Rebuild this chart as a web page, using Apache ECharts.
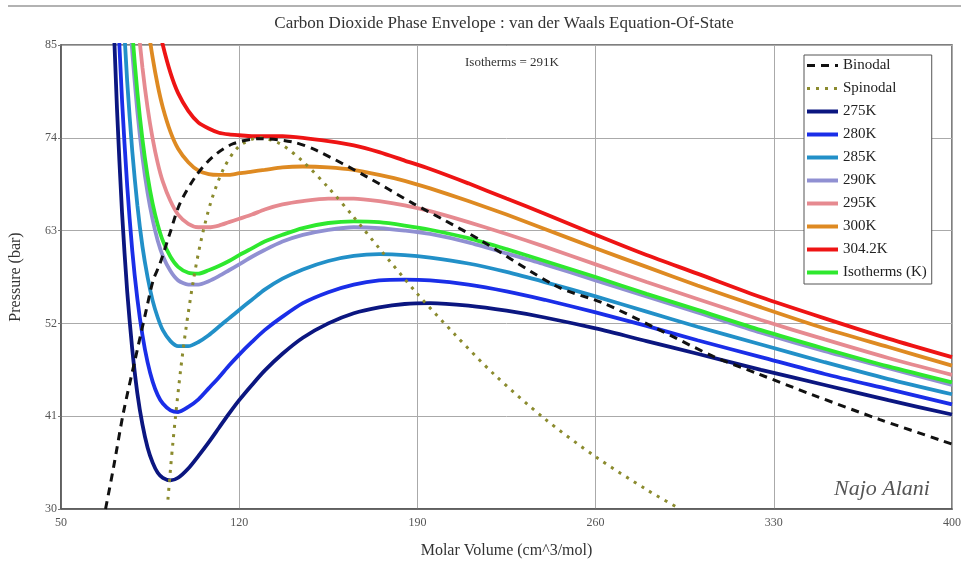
<!DOCTYPE html>
<html>
<head>
<meta charset="utf-8">
<script src="https://cdn.jsdelivr.net/npm/echarts@6/dist/echarts.min.js"></script>
<style>
html,body{margin:0;padding:0;background:#fff;}
#chart{width:961px;height:563px;}
</style>
</head>
<body>
<div id="chart"></div>
<script>
// Molar volume samples (cm^3/mol) shared by the isotherms
const volumes = [68,70,72,74,76,78,80,82,84,86,88,90,93,96,100,104,108,112,116,120,125,130,137,145,155,165,175,185,195,210,225,240,260,280,300,325,350,375,400];

// Isotherm pressures (bar)
const p275 = [115.4,93.7,77.4,65.0,55.8,48.9,43.7,40.0,37.3,35.5,34.3,33.7,33.4,33.7,34.8,36.3,37.9,39.6,41.3,42.9,44.7,46.4,48.4,50.3,52.0,53.2,53.9,54.3,54.4,54.1,53.5,52.7,51.4,49.9,48.4,46.5,44.7,42.9,41.2];
const p280 = [null,108.9,91.5,78.3,68.3,60.6,54.9,50.6,47.4,45.1,43.5,42.5,41.7,41.5,42.1,43.0,44.3,45.6,47.0,48.3,49.8,51.2,52.8,54.4,55.7,56.6,57.1,57.2,57.1,56.6,55.8,54.8,53.3,51.7,50.0,48.0,46.0,44.2,42.4];
const p285 = [null,null,105.7,91.6,80.7,72.4,66.0,61.1,57.5,54.7,52.7,51.2,49.9,49.3,49.3,49.8,50.6,51.6,52.6,53.6,54.8,56.0,57.3,58.4,59.4,60.0,60.2,60.1,59.8,59.1,58.1,56.9,55.2,53.4,51.6,49.5,47.4,45.4,43.6];
const p290 = [null,null,null,null,93.2,84.2,77.1,71.7,67.5,64.3,61.8,60.0,58.2,57.1,56.6,56.6,57.0,57.6,58.3,59.0,59.9,60.7,61.7,62.5,63.1,63.4,63.3,63.0,62.6,61.6,60.3,59.0,57.1,55.2,53.3,50.9,48.7,46.7,44.7];
const p295 = [null,null,null,null,null,95.9,88.3,82.3,77.6,73.9,71.0,68.8,66.5,64.9,63.8,63.4,63.4,63.6,64.0,64.4,64.9,65.5,66.1,66.5,66.8,66.8,66.5,66.0,65.3,64.0,62.6,61.1,59.0,56.9,54.9,52.4,50.1,47.9,45.9];
const p300 = [null,null,null,null,null,null,99.4,92.8,87.6,83.5,80.2,77.6,74.7,72.7,71.1,70.1,69.7,69.6,69.6,69.8,70.0,70.2,70.5,70.6,70.5,70.2,69.6,68.9,68.0,66.5,64.9,63.2,60.9,58.7,56.5,53.9,51.4,49.2,47.0];
const p304 = [null,null,null,null,null,null,null,null,96.1,91.5,87.9,85.0,81.7,79.3,77.2,75.8,75.1,74.6,74.4,74.3,74.2,74.2,74.2,74.0,73.6,73.1,72.3,71.3,70.3,68.6,66.8,65.0,62.5,60.1,57.9,55.1,52.6,50.2,48.0];
const p291 = [null,null,null,null,95.7,86.5,79.4,73.8,69.5,66.2,63.7,61.8,59.9,58.7,58.0,57.9,58.3,58.8,59.4,60.1,60.9,61.7,62.5,63.3,63.9,64.1,64.0,63.6,63.1,62.1,60.8,59.4,57.5,55.5,53.6,51.2,49.0,46.9,45.0];

// Binodal (coexistence) curve
const binodalV = [67.5,70.5,74.5,79.1,83.5,86.2,88.9,92.8,96.7,103.3,109.8,117.7,128,141,150.4,170,188.4,200.2,214.6,244.7,263,282.6,306.2,323.2,345.5,371.7,400];
const binodalP = [30.0,34.7,41.4,47.7,53.6,57.1,59.1,62.7,66.2,69.6,71.8,73.3,73.9,73.5,72.5,69.4,66.2,64.3,61.9,56.4,54.4,51.6,48.1,46.1,43.5,40.6,37.7];

// Spinodal curve
const spinodalV = [92,93,94,95,97,99,102,105,109,114,120,128,136,145,155,165,175,190,205,220,240,260,280,292];
const spinodalP = [31.1,34.7,38.0,41.0,46.5,51.2,57.1,61.8,66.5,70.4,73.0,74.0,73.3,71.2,68.1,64.6,60.9,55.5,50.6,46.0,40.7,36.2,32.3,30.2];

const isoNames = ['275K','280K','285K','290K','295K','300K','304.2K','Isotherms (K)'];
const isoValues = [p275,p280,p285,p290,p295,p300,p304,p291];
const isoColors = ['#0b1680','#1a2ee8','#2290c8','#9090d2','#e68a90','#de8a22','#ee1414','#2ee82e'];

const legendOrder = ['Binodal','Spinodal','275K','280K','285K','290K','295K','300K','304.2K','Isotherms (K)'];

const serif = '"Liberation Serif", "DejaVu Serif", serif';

function pairs(xs, ys) {
  const out = [];
  for (let i = 0; i < xs.length; i++) if (ys[i] != null) out.push([xs[i], ys[i]]);
  return out;
}

const series = [];
isoNames.forEach((n, i) => {
  series.push({
    name: n, type: 'line', data: pairs(volumes, isoValues[i]),
    showSymbol: false, symbol: 'none', smooth: 0.25, z: 2 + (i === 7 ? 1 : 0),
    lineStyle: { color: isoColors[i], width: 3.8 }, itemStyle: { color: isoColors[i] },
    emphasis: { disabled: true }
  });
});
series.unshift({
  name: 'Spinodal', type: 'line', data: pairs(spinodalV, spinodalP),
  showSymbol: false, symbol: 'none', smooth: 0.3, z: 5,
  lineStyle: { color: '#8b8b2e', width: 3, type: [3, 6] }, itemStyle: { color: '#8b8b2e' },
  emphasis: { disabled: true }
});
series.unshift({
  name: 'Binodal', type: 'line', data: pairs(binodalV, binodalP),
  showSymbol: false, symbol: 'none', smooth: 0.3, z: 6,
  lineStyle: { color: '#111', width: 3, type: [8, 6] }, itemStyle: { color: '#111' },
  emphasis: { disabled: true }
});

const legendData = legendOrder.map(n => ({ name: n, lineStyle: { width: (n === 'Binodal' || n === 'Spinodal') ? 3 : 4 } }));

const chart = echarts.init(document.getElementById('chart'), null, { renderer: 'canvas' });
chart.setOption({
  animation: false,
  backgroundColor: '#fff',
  grid: { left: 61, right: 9, top: 45, bottom: 54, show: true, borderColor: '#555', borderWidth: 1.5, containLabel: false, outerBoundsMode: 'none' },
  xAxis: {
    type: 'value', min: 50, max: 400, interval: 70,
    name: 'Molar Volume (cm^3/mol)', nameLocation: 'middle', nameGap: 34,
    nameTextStyle: { fontFamily: serif, fontSize: 16, color: '#333' },
    axisLine: { show: true, lineStyle: { color: '#555', width: 1.5 } },
    axisTick: { show: false },
    axisLabel: { fontFamily: serif, fontSize: 12, color: '#555', margin: 8 },
    splitLine: { show: true, lineStyle: { color: '#aaa', width: 1 } }
  },
  yAxis: {
    type: 'value', min: 30, max: 85, interval: 11,
    name: 'Pressure (bar)', nameLocation: 'middle', nameGap: 37,
    nameTextStyle: { fontFamily: serif, fontSize: 16, color: '#333' },
    axisLine: { show: true, lineStyle: { color: '#555', width: 1.5 } },
    axisTick: { show: true, length: 3, lineStyle: { color: '#777' } },
    axisLabel: { fontFamily: serif, fontSize: 12, color: '#555', margin: 4 },
    splitLine: { show: true, lineStyle: { color: '#aaa', width: 1 } }
  },
  legend: {
    data: legendData, orient: 'vertical', left: 804, top: 55,
    itemWidth: 31, itemHeight: 14, itemGap: 8,
    padding: [3, 5, 4, 1],
    borderColor: '#555', borderWidth: 1, backgroundColor: '#fff',
    itemStyle: { opacity: 0 },
    textStyle: { fontFamily: serif, fontSize: 15, color: '#222', lineHeight: 14 },
    selectedMode: false
  },
  graphic: [
    { type: 'line', shape: { x1: 8, y1: 6, x2: 961, y2: 6 }, style: { stroke: '#999', lineWidth: 1.5 }, silent: true },
    { type: 'text', x: 504, y: 24, style: { text: 'Carbon Dioxide Phase Envelope : van der Waals Equation-Of-State', font: '17px ' + serif, fill: '#333', textAlign: 'center', textVerticalAlign: 'middle' }, silent: true },
    { type: 'text', x: 465, y: 63, style: { text: 'Isotherms = 291K', font: '13px ' + serif, fill: '#333', textAlign: 'left', textVerticalAlign: 'middle' }, silent: true },
    { type: 'text', x: 882, y: 489, style: { text: 'Najo Alani', font: 'italic 22px ' + serif, fill: '#555', textAlign: 'center', textVerticalAlign: 'middle' }, silent: true }
  ],
  series: series
});
</script>
</body>
</html>
